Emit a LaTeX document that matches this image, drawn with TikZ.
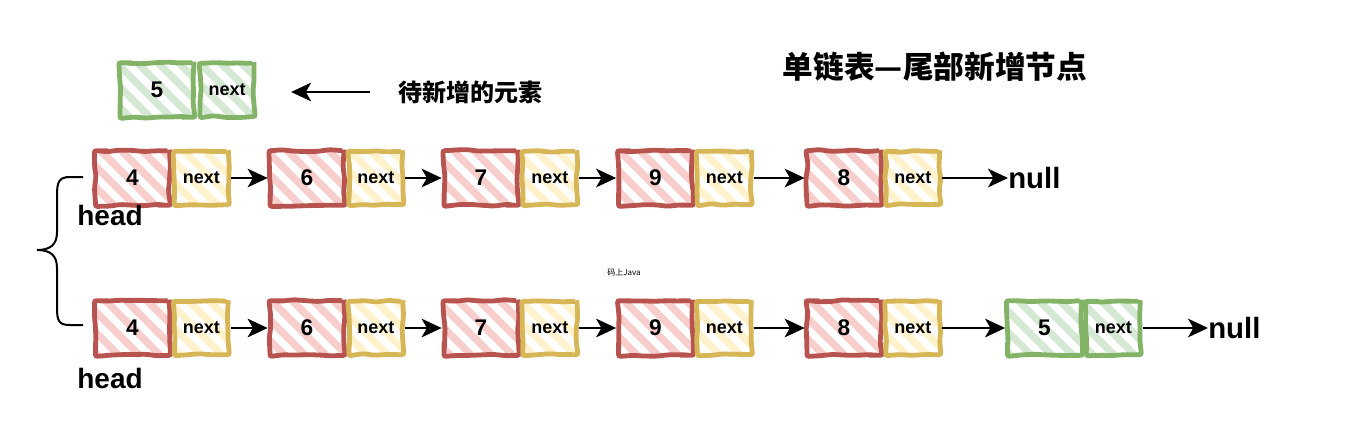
\documentclass[tikz,border=0pt]{standalone}
\usepackage{fontspec}
\setmainfont{Liberation Sans}
\newfontfamily\cjk{Noto Sans CJK SC}
\usetikzlibrary{patterns.meta,decorations.pathmorphing,arrows.meta}
\definecolor{rS}{HTML}{B85450}
\definecolor{rF}{HTML}{F8CECC}
\definecolor{yS}{HTML}{D6B656}
\definecolor{yF}{HTML}{FFF2CC}
\definecolor{gS}{HTML}{82B366}
\definecolor{gF}{HTML}{D5E8D4}
\tikzset{
  sketch/.style={decorate, decoration={random steps,segment length=9pt,amplitude=0.8pt}, rounded corners=1.5pt, line width=3.6pt},
  valbox/.style={sketch, minimum width=55.5pt, minimum height=41pt, inner sep=0pt, font=\bfseries\fontsize{17}{17}\selectfont},
  nextbox/.style={sketch, minimum width=40.5pt, minimum height=40pt, inner sep=0pt, anchor=west, font=\bfseries\fontsize{13.5}{13.5}\selectfont},
  redc/.style={draw=rS, pattern={Lines[angle=-45,distance=11pt,line width=5.5pt]}, pattern color=rF},
  yelc/.style={draw=yS, pattern={Lines[angle=-45,distance=11pt,line width=5.5pt]}, pattern color=yF},
  grnc/.style={draw=gS, pattern={Lines[angle=-45,distance=11pt,line width=5.5pt]}, pattern color=gF},
  arr/.style={line width=1.5pt, -{Stealth[length=15pt,width=14pt,inset=4pt]}},
  nulltxt/.style={anchor=west, inner sep=0pt, font=\bfseries\fontsize{22}{22}\selectfont},
  headtxt/.style={inner sep=0pt, font=\bfseries\fontsize{21}{21}\selectfont},
}
\begin{document}
\pgfmathsetseed{7}
\begin{tikzpicture}[x=0.75pt,y=-0.75pt]
\useasboundingbox (0,0) rectangle (1364,444);
% title
\node[font=\cjk\bfseries\fontsize{23}{23}\selectfont] (title) at (935,67) {单链表—尾部新增节点};
% element to add
\node[valbox,grnc] (g0) at (157,90) {5};
\node[nextbox,grnc] (g0n) at (g0.east) {next};
\node[anchor=west, inner sep=0pt, font=\cjk\bfseries\fontsize{18}{18}\selectfont] (wait) at (398,92) {待新增的元素};
\draw[arr, shorten <=21pt, shorten >=26pt] (wait.west) -- (g0n.east |- wait.west);
% row 1
\foreach \v/\x/\n in {4/132.5/a1,6/307/a2,7/481/a3,9/655.5/a4,8/844/a5}{
  \node[valbox,redc] (\n) at (\x,178) {\v};
  \node[nextbox,yelc] (\n n) at (\n.east) {next};
}
\node[nulltxt] (null1) at (1008,178) {null};
\draw[arr] (a1n.east) -- (a2.west);
\draw[arr] (a2n.east) -- (a3.west);
\draw[arr] (a3n.east) -- (a4.west);
\draw[arr] (a4n.east) -- (a5.west);
\draw[arr] (a5n.east) -- (null1.west);
% row 2
\foreach \v/\x/\n in {4/132.5/b1,6/307/b2,7/481/b3,9/655.5/b4,8/844/b5}{
  \node[valbox,redc] (\n) at (\x,328) {\v};
  \node[nextbox,yelc] (\n n) at (\n.east) {next};
}
\node[valbox,grnc] (b6) at (1044.5,328) {5};
\node[nextbox,grnc] (b6n) at (b6.east) {next};
\node[nulltxt] (null2) at (1208,328) {null};
\draw[arr] (b1n.east) -- (b2.west);
\draw[arr] (b2n.east) -- (b3.west);
\draw[arr] (b3n.east) -- (b4.west);
\draw[arr] (b4n.east) -- (b5.west);
\draw[arr] (b5n.east) -- (b6.west);
\draw[arr] (b6n.east) -- (null2.west);
% heads
\node[headtxt] (h1) at (110,215) {head};
\node[headtxt] (h2) at (110,378) {head};
% brace
\coordinate (bt) at (83,177);
\coordinate (bb) at (83,325);
\coordinate (bm) at (37,250);
\draw[line width=1.5pt] (bt) -- (70,177) .. controls (59,177) and (57,182) .. (57,195) -- (57,232)
  .. controls (57,245) and (50,250) .. (bm)
  .. controls (50,250) and (57,255) .. (57,268) -- (57,308)
  .. controls (57,321) and (59,325) .. (70,325) -- (bb);
% watermark
\node[font=\cjk\fontsize{6}{6}\selectfont, inner sep=0pt] (wm) at (624,272) {码上Java};
\end{tikzpicture}
\end{document}
